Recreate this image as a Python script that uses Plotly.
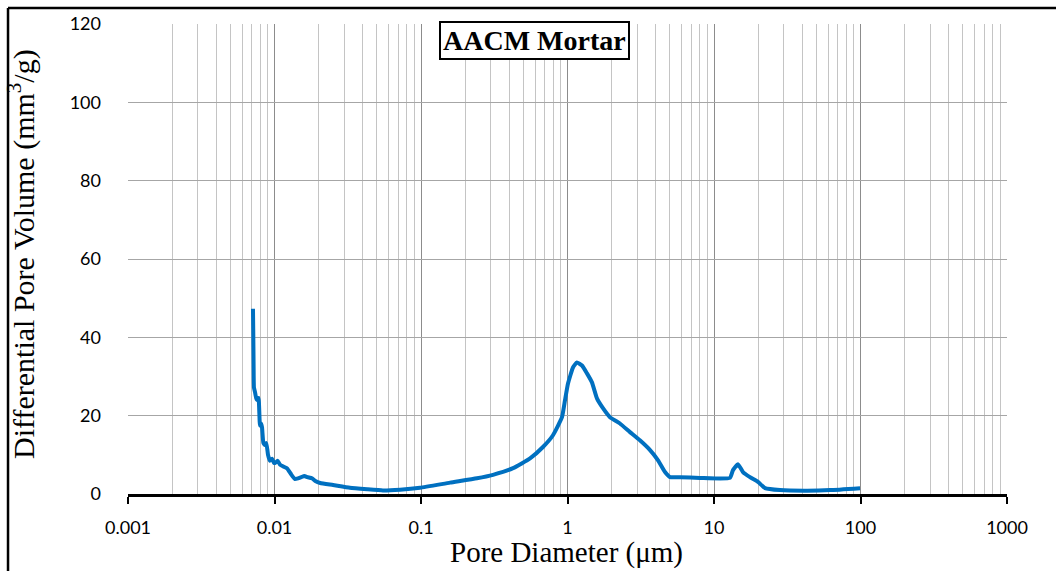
import plotly.graph_objects as go

# Differential pore volume distribution, AACM mortar (MIP)
pore_diameter_um = [
    0.00713, 0.00716, 0.00720, 0.00724, 0.00736, 0.00750, 0.00760, 0.00778,
    0.00796, 0.00810, 0.00822, 0.00840, 0.00861, 0.00880, 0.00903, 0.00930,
    0.00962, 0.00990, 0.01008, 0.01050, 0.01090, 0.01150, 0.01220, 0.01300,
    0.01380, 0.01450, 0.01520, 0.01600, 0.01680, 0.01800, 0.01900, 0.02050,
    0.02510, 0.03270, 0.04300, 0.05500, 0.07200, 0.09850, 0.15800, 0.24100,
    0.31000, 0.42500, 0.55500, 0.68000, 0.79600, 0.91700, 0.96100, 1.00800,
    1.09000, 1.16000, 1.25600, 1.35800, 1.46900, 1.58900, 1.74600, 1.95000,
    2.28000, 2.67000, 3.12000, 3.66000, 4.15000, 4.63000, 5.01000, 5.87000,
    8.02000, 12.8500, 13.4800, 14.5800, 15.7700, 17.6000, 19.9600, 22.3000,
    28.2000, 43.2000, 62.0000, 99.3000,
]
diff_pore_volume = [
    47.3, 42.0, 33.0, 27.2, 26.0, 24.5, 24.0, 24.5,
    17.5, 18.0, 17.0, 13.0, 12.5, 13.0, 10.0, 8.5,
    9.0, 8.0, 7.9, 8.5, 7.5, 7.0, 6.5, 5.0,
    3.8, 4.0, 4.3, 4.6, 4.3, 4.0, 3.3, 2.8,
    2.3, 1.6, 1.2, 0.9, 1.1, 1.6, 2.9, 4.0,
    4.9, 6.6, 9.1, 12.0, 15.0, 19.6, 23.9, 28.2,
    32.3, 33.6, 32.8, 30.8, 28.5, 24.4, 21.9, 19.6,
    18.0, 15.8, 13.7, 11.2, 8.6, 5.6, 4.3, 4.3,
    4.1, 4.1, 6.1, 7.6, 5.6, 4.3, 3.1, 1.5,
    1.0, 0.85, 1.0, 1.5,
]

x_tick_vals = [0.001, 0.01, 0.1, 1, 10, 100, 1000]
x_tick_text = ["0.001", "0.01", "0.1", "1", "10", "100", "1000"]
y_tick_vals = [0, 20, 40, 60, 80, 100, 120]

serif = "Liberation Serif, Times New Roman, serif"
sans = "Lato, Carlito, Calibri, sans-serif"

fig = go.Figure()
fig.add_trace(go.Scatter(
    x=pore_diameter_um, y=diff_pore_volume, mode="lines",
    line=dict(color="#0070C0", width=4, shape="spline", smoothing=0.4),
    showlegend=False,
))

fig.update_layout(
    width=1056, height=571,
    margin=dict(l=128, r=49, t=22, b=77),
    paper_bgcolor="white", plot_bgcolor="white",
    xaxis=dict(
        type="log", range=[-3, 3],
        tickvals=x_tick_vals, ticktext=x_tick_text,
        ticks="outside", ticklen=7, tickwidth=2, tickcolor="black",
        showline=True, linecolor="black", linewidth=3,
        showgrid=True, gridcolor="#8C8C8C", gridwidth=1.3,
        minor=dict(dtick="D1", showgrid=True, gridcolor="#C4C4C4",
                   gridwidth=1.3, ticks=""),
        tickfont=dict(family=sans, size=18, color="black"),
        ticklabelstandoff=8,
        zeroline=False,
    ),
    yaxis=dict(
        range=[0, 120], tickvals=y_tick_vals,
        showline=False, ticks="",
        showgrid=True, gridcolor="#A6A6A6", gridwidth=1.3,
        tickfont=dict(family=sans, size=18, color="black"),
        ticklabelstandoff=26,
        zeroline=False,
    ),
    annotations=[
        dict(text="<b>AACM Mortar</b>", xref="paper", yref="paper",
             x=0.4625, y=1.0, xanchor="center", yanchor="top", yshift=3,
             showarrow=False, font=dict(family=serif, size=28, color="black"),
             bgcolor="white", bordercolor="black", borderwidth=2, borderpad=2),
        dict(text="Pore Diameter (μm)", xref="paper", yref="paper",
             x=0.499, y=-0.124, xanchor="center", yanchor="middle",
             showarrow=False, font=dict(family=serif, size=29, color="black")),
        dict(text="Differential Pore Volume (mm<sup>3</sup>/g)",
             xref="paper", yref="paper", textangle=-90,
             x=-0.121, y=0.51, xanchor="center", yanchor="middle",
             showarrow=False, font=dict(family=serif, size=30, color="black")),
    ],
    shapes=[
        dict(type="line", xref="paper", yref="paper",
             x0=-0.1365, x1=1.06, y0=1.0339, y1=1.0339,
             line=dict(color="black", width=2.5)),
        dict(type="line", xref="paper", yref="paper",
             x0=-0.1365, x1=-0.1365, y0=1.0339, y1=-0.2,
             line=dict(color="black", width=2.5)),
    ],
)

fig.write_html("out.html")
